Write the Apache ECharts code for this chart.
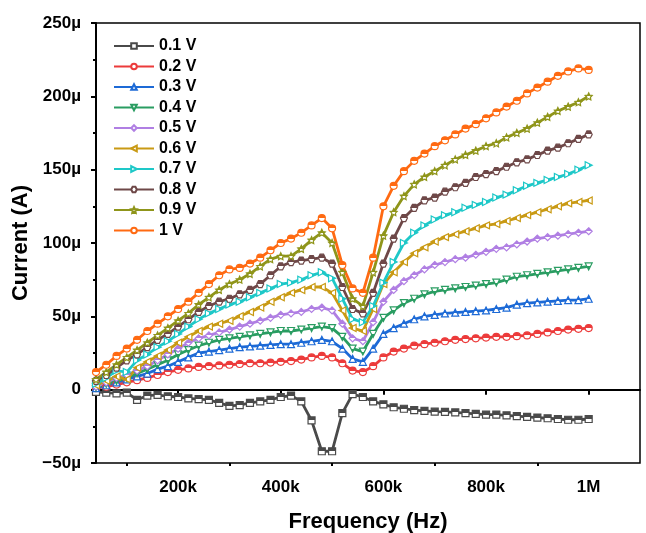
<!DOCTYPE html>
<html><head><meta charset="utf-8">
<script src="https://cdn.jsdelivr.net/npm/echarts@6/dist/echarts.min.js"></script>
<style>html,body{margin:0;padding:0;background:#fff}#c{width:646px;height:533px}</style>
</head><body><div id="c"></div>
<script>
// Frequency in kHz
const freqK = [40,60,80,100,120,140,160,180,200,220,240,260,280,300,320,340,360,380,400,420,440,460,480,500,520,540,560,580,600,620,640,660,680,700,720,740,760,780,800,820,840,860,880,900,920,940,960,980,1000];
// Current in microamps
const v01 = [-1.5,-2,-2.5,-2,-7,-4,-3.5,-4.5,-5,-6,-6.5,-7,-9,-11,-10.5,-9,-8,-7,-5,-4,-8,-21,-42,-42,-16,-3,-5,-8,-10,-12,-13,-14,-14.5,-15,-15.2,-15.5,-16,-16.5,-17,-17,-17.5,-18,-18.5,-19,-19.5,-20,-20.5,-20.5,-20];
const v02 = [1,2,3.5,5,6.5,8,10,12,13.5,14.5,15.5,16,16.5,17,17.5,18,18,18.5,19,19.5,20.5,22,23,22,18,13,12,16,22,26,28,30,31,32,33,34,34.5,35,35.5,36,36,36.5,37,38,39,40,41,41.5,42];
const v03 = [1,3,5,7,9,11,14,16,19,22,25,26,27,28,29,29.5,30,30.5,31,31,32,33,34,33,28,21,19,28,38,42,45,48,50,51,52,52.5,53,53.5,54,55,56,58,59,59.5,60,60.5,61,61,62];
const v04 = [1.5,4,6,8,11,14,17,20,24,27,30,32,34,35,36,37,38,39,40,40,41,42,43,42,36,28,26,38,49,54,59,62,65,67,68,69,70,71,72,73,75,77,78,79,80,81,82,83,84];
const v05 = [2,5,8,10,13,16,20,24,28,32,35,37,39,41,43,45,47,49,51,52,53,55,56,54,45,35,33,46,60,68,74,78,82,85,87,89,90,92,94,96,97,99,101,103,104,105,106,107,108];
const v06 = [3,6,9,7,15,19,23,27,32,36,40,43,45,47,50,53,56,60,63,66,68,70,70,66,54,42,40,55,72,80,87,93,97,101,104,106,108,110,112,113,115,117,119,121,123,125,127,128,129];
const v07 = [4,8,13,12,20,24,29,33,38,43,48,52,55,58,60,63,66,69,72,73,75,78,80,76,62,48,46,57,73,87,100,107,112,116,119,121,124,126,128,131,133,136,139,141,143,145,147,150,153];
const v08 = [6,10,15,20,24,29,34,38,43,48,53,57,60,62,65,68,72,78,84,87,88,89,90,86,70,55,52,66,86,103,117,124,129,131,135,138,141,145,147,149,152,155,157,160,163,165,168,171,174];
const v09 = [7,12,17,22,27,32,37,42,47,52,58,63,68,72,75,79,84,89,91,91,96,102,107,100,80,62,57,80,105,121,132,140,145,149,153,157,160,163,166,168,172,175,178,182,186,190,193,196,200];
const v10 = [12,17,23,28,34,40,45,50,55,60,66,72,78,82,83,86,90,95,100,103,107,112,117,110,85,69,66,90,125,139,149,156,161,166,170,174,178,181,185,189,193,197,202,206,210,214,217,219,218];

const seriesNames = ['0.1 V','0.2 V','0.3 V','0.4 V','0.5 V','0.6 V','0.7 V','0.8 V','0.9 V','1 V'];
const seriesValues = [v01,v02,v03,v04,v05,v06,v07,v08,v09,v10];
const xTickValues = [200,400,600,800,1000];
const xMinorValues = [100,300,500,700,900];

const colors = ['#4a4a4a','#ec3b3b','#1d6ad6','#2a9d62','#b07fe3','#c99a14','#1ec8c8','#6e4848','#8f951a','#ff6a12'];
const star = 'path://M0,-10L2.9,-4L9.5,-3.1L4.8,1.5L5.9,8.1L0,5L-5.9,8.1L-4.8,1.5L-9.5,-3.1L-2.9,-4Z';
const hex = 'path://M-5,-8.66L5,-8.66L10,0L5,8.66L-5,8.66L-10,0Z';
const symbols = ['rect','circle','triangle','triangle','diamond','triangle','triangle',hex,star,'circle'];
const rotates = [0,0,0,180,0,90,-90,0,0,0];

const font = '"Liberation Sans", Arial, sans-serif';

function halfFill(c) {
  return { type: 'linear', x: 0, y: 0, x2: 0, y2: 1,
    colorStops: [{ offset: 0, color: c }, { offset: 0.5, color: c }, { offset: 0.5, color: '#fff' }, { offset: 1, color: '#fff' }] };
}

const series = seriesNames.map((name, i) => ({
  name,
  type: 'line',
  data: freqK.map((f, j) => [f, seriesValues[i][j]]),
  color: colors[i],
  symbol: symbols[i],
  symbolRotate: rotates[i],
  symbolSize: 7,
  showSymbol: true,
  lineStyle: { color: colors[i], width: 2.8 },
  itemStyle: { color: halfFill(colors[i]), borderColor: colors[i], borderWidth: 1.2 },
  emphasis: { disabled: true },
  animation: false
}));

const chart = echarts.init(document.getElementById('c'), null, { renderer: 'canvas' });
chart.setOption({
  backgroundColor: '#fff',
  animation: false,
  grid: { left: 96, right: 6, top: 23, bottom: 70, show: true, borderColor: '#000', borderWidth: 1.5, backgroundColor: 'transparent', containLabel: false, outerBoundsMode: 'none' },
  legend: {
    orient: 'vertical', left: 108, top: 33,
    itemWidth: 40, itemHeight: 7, itemGap: 4.5,
    selectedMode: false,
    textStyle: { fontFamily: font, fontWeight: 'bold', fontSize: 16, color: '#000' },
    data: seriesNames.map(n => ({ name: n, itemStyle: { color: '#fff' } }))
  },
  xAxis: [{
    type: 'value', min: 40, max: 1100,
    name: 'Frequency (Hz)', nameLocation: 'middle', nameGap: 48,
    nameTextStyle: { fontFamily: font, fontWeight: 'bold', fontSize: 22, color: '#000' },
    axisLine: { lineStyle: { color: '#000', width: 2 } },
    axisTick: { show: true, inside: false, length: 5, lineStyle: { color: '#000', width: 2 }, customValues: xTickValues },
    axisLabel: { customValues: xTickValues, margin: 16, fontFamily: font, fontWeight: 'bold', fontSize: 17, color: '#000',
      formatter: v => v >= 1000 ? (v / 1000) + 'M' : v + 'k' },
    splitLine: { show: false }
  }, {
    type: 'value', min: 40, max: 1100, position: 'bottom',
    axisLine: { show: false },
    axisTick: { show: true, inside: false, length: 3, lineStyle: { color: '#000', width: 2 }, customValues: xMinorValues },
    axisLabel: { show: false },
    splitLine: { show: false }
  }],
  yAxis: {
    type: 'value', min: -50, max: 250, interval: 50,
    name: 'Current (A)', nameLocation: 'middle', nameGap: 57, nameRotate: 90,
    nameTextStyle: { fontFamily: font, fontWeight: 'bold', fontSize: 22, color: '#000' },
    axisLine: { show: true, lineStyle: { color: '#000', width: 2 } },
    axisTick: { show: true, inside: false, length: 5, lineStyle: { color: '#000', width: 2 } },
    minorTick: { show: true, splitNumber: 2, length: 3, lineStyle: { color: '#000', width: 2 } },
    axisLabel: { margin: 15, fontFamily: font, fontWeight: 'bold', fontSize: 17, color: '#000',
      formatter: v => v === 0 ? '0' : (v < 0 ? '\u2212' + Math.abs(v) : v) + '\u00b5' },
    splitLine: { show: false }
  },
  series
});
</script>
</body></html>
